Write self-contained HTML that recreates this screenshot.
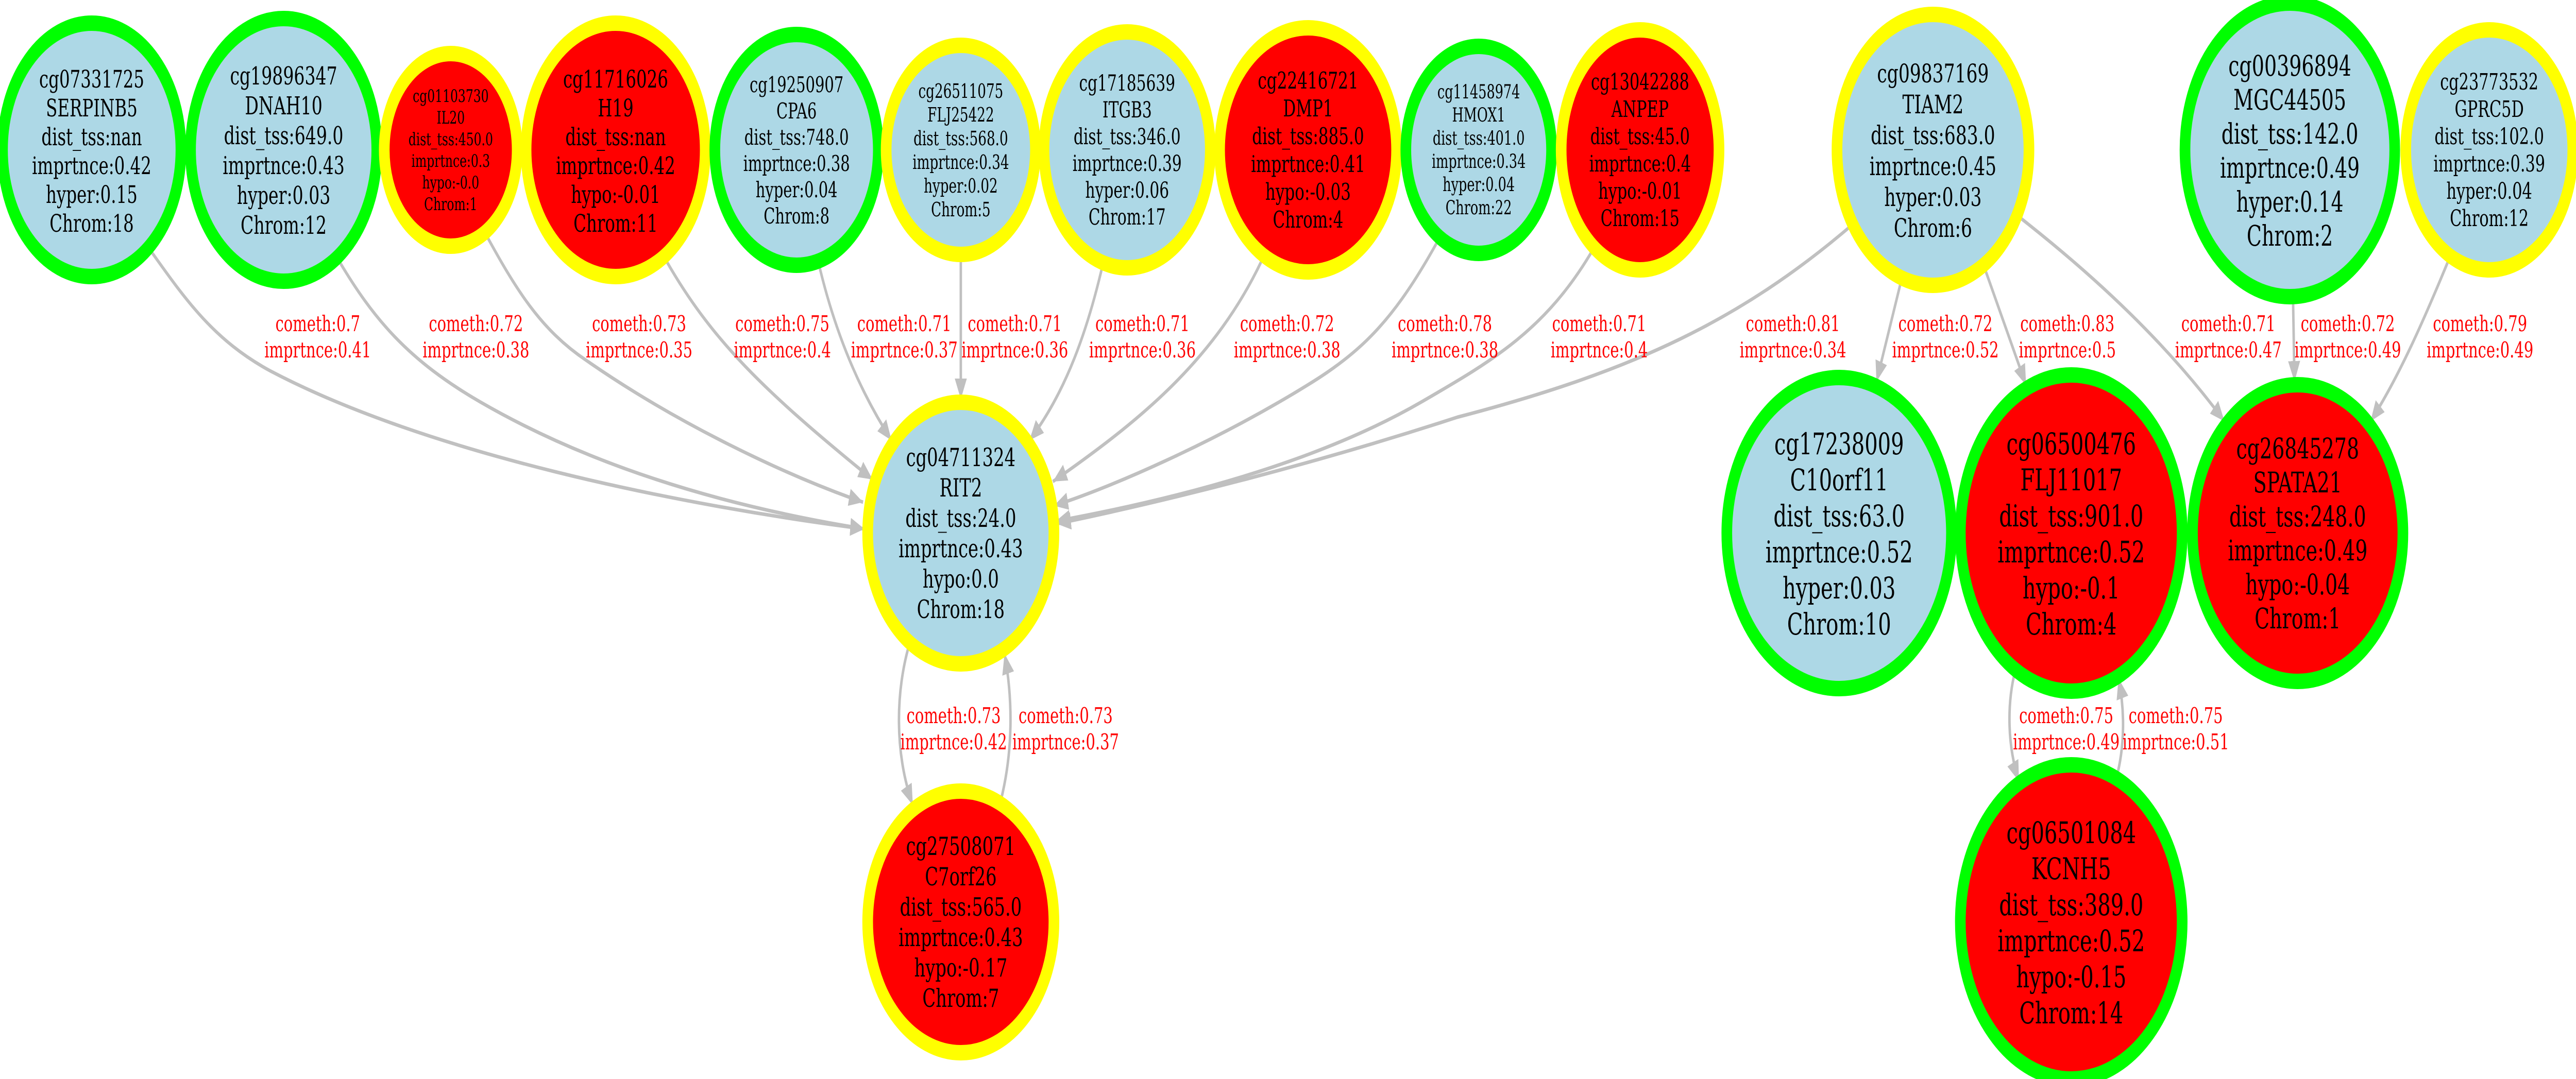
<!DOCTYPE html>
<html><head><meta charset="utf-8"><style>
html,body{margin:0;padding:0;background:#fff;overflow:hidden;width:100%;height:100%;}
svg{display:block;width:100vw;height:100vh;}
.e{fill:none;stroke:#c0c0c0;stroke-width:7;marker-end:url(#ah);}
.l{font-family:"DejaVu Serif","Liberation Serif",serif;font-size:42px;fill:#ff0000;text-anchor:middle;}
.n{font-family:"DejaVu Serif","Liberation Serif",serif;fill:#000;text-anchor:middle;}
</style></head><body>
<svg viewBox="0 0 7247 2095" preserveAspectRatio="none" xmlns="http://www.w3.org/2000/svg">
<defs>
<marker id="ah" markerUnits="userSpaceOnUse" markerWidth="44" markerHeight="36" refX="40" refY="17" orient="auto">
<path d="M0,0 L40,17 L0,34 Z" fill="#c0c0c0"/>
</marker>
</defs>

<path class="e" d="M421,484 C520,580 600,660 760,720 C1200,880 1900,980 2432,1027"/>
<path class="e" d="M949,501 C1050,620 1150,700 1350,780 C1700,920 2100,990 2432,1027"/>
<path class="e" d="M1366,454 C1450,560 1520,640 1650,700 C1900,820 2200,920 2428,975"/>
<path class="e" d="M1870,501 C2000,660 2150,760 2455,931"/>
<path class="e" d="M2302,508 C2350,650 2420,760 2508,855"/>
<path class="e" d="M2703,497 L2703,775"/>
<path class="e" d="M3103,512 C3060,640 3000,760 2896,855"/>
<path class="e" d="M3555,498 C3420,700 3200,820 2962,935"/>
<path class="e" d="M4048,464 C3900,650 3800,700 3600,780 C3400,860 3150,940 2965,982"/>
<path class="e" d="M4482,484 C4350,640 4200,700 4000,780 C3700,900 3300,970 2970,1012"/>
<path class="e" d="M5210,437 C4900,620 4600,720 4100,810 C3700,900 3300,970 2973,1017"/>
<path class="e" d="M2559,1249 C2520,1340 2515,1460 2568,1563"/>
<path class="e" d="M2815,1556 C2850,1460 2850,1360 2826,1269"/>
<path class="e" d="M5350,541 L5279,741"/>
<path class="e" d="M5582,518 L5700,748"/>
<path class="e" d="M5680,421 C5900,540 6100,670 6258,818"/>
<path class="e" d="M6451,581 L6455,741"/>
<path class="e" d="M6891,501 C6820,620 6750,730 6669,818"/>
<path class="e" d="M5669,1303 C5645,1370 5648,1450 5680,1517"/>
<path class="e" d="M5953,1513 C5978,1450 5978,1380 5960,1317"/>

<g class="l">
<text x="894" y="643">cometh:0.7</text><text x="894" y="694">imprtnce:0.41</text>
<text x="1339" y="643">cometh:0.72</text><text x="1339" y="694">imprtnce:0.38</text>
<text x="1798" y="643">cometh:0.73</text><text x="1798" y="694">imprtnce:0.35</text>
<text x="2201" y="643">cometh:0.75</text><text x="2201" y="694">imprtnce:0.4</text>
<text x="2544" y="643">cometh:0.71</text><text x="2544" y="694">imprtnce:0.37</text>
<text x="2855" y="643">cometh:0.71</text><text x="2855" y="694">imprtnce:0.36</text>
<text x="3214" y="643">cometh:0.71</text><text x="3214" y="694">imprtnce:0.36</text>
<text x="3621" y="643">cometh:0.72</text><text x="3621" y="694">imprtnce:0.38</text>
<text x="4065" y="643">cometh:0.78</text><text x="4065" y="694">imprtnce:0.38</text>
<text x="4499" y="643">cometh:0.71</text><text x="4499" y="694">imprtnce:0.4</text>
<text x="5044" y="643">cometh:0.81</text><text x="5044" y="694">imprtnce:0.34</text>
<text x="5473" y="643">cometh:0.72</text><text x="5473" y="694">imprtnce:0.52</text>
<text x="5816" y="643">cometh:0.83</text><text x="5816" y="694">imprtnce:0.5</text>
<text x="6269" y="643">cometh:0.71</text><text x="6269" y="694">imprtnce:0.47</text>
<text x="6605" y="643">cometh:0.72</text><text x="6605" y="694">imprtnce:0.49</text>
<text x="6977" y="643">cometh:0.79</text><text x="6977" y="694">imprtnce:0.49</text>
<text x="2683" y="1404">cometh:0.73</text><text x="2683" y="1455">imprtnce:0.42</text>
<text x="2998" y="1404">cometh:0.73</text><text x="2998" y="1455">imprtnce:0.37</text>
<text x="5813" y="1404">cometh:0.75</text><text x="5813" y="1455">imprtnce:0.49</text>
<text x="6121" y="1404">cometh:0.75</text><text x="6121" y="1455">imprtnce:0.51</text>
</g>

<g>
<ellipse cx="258" cy="291" rx="251" ry="246" fill="#add8e6" stroke="#00ff00" stroke-width="30"/>
<text class="n" font-size="47" x="258" y="170"><tspan x="258">cg07331725</tspan><tspan x="258" dy="56">SERPINB5</tspan><tspan x="258" dy="56">dist_tss:nan</tspan><tspan x="258" dy="56">imprtnce:0.42</tspan><tspan x="258" dy="56">hyper:0.15</tspan><tspan x="258" dy="56">Chrom:18</tspan></text>

<ellipse cx="798" cy="291" rx="262" ry="255" fill="#add8e6" stroke="#00ff00" stroke-width="30"/>
<text class="n" font-size="48" x="798" y="164"><tspan x="798">cg19896347</tspan><tspan x="798" dy="58">DNAH10</tspan><tspan x="798" dy="58">dist_tss:649.0</tspan><tspan x="798" dy="58">imprtnce:0.43</tspan><tspan x="798" dy="58">hyper:0.03</tspan><tspan x="798" dy="58">Chrom:12</tspan></text>

<ellipse cx="1268" cy="291" rx="187" ry="187" fill="#ff0000" stroke="#ffff00" stroke-width="30"/>
<text class="n" font-size="34" x="1268" y="198"><tspan x="1268">cg01103730</tspan><tspan x="1268" dy="42">IL20</tspan><tspan x="1268" dy="42">dist_tss:450.0</tspan><tspan x="1268" dy="42">imprtnce:0.3</tspan><tspan x="1268" dy="42">hypo:-0.0</tspan><tspan x="1268" dy="42">Chrom:1</tspan></text>

<ellipse cx="1732" cy="291" rx="252" ry="246" fill="#ff0000" stroke="#ffff00" stroke-width="30"/>
<text class="n" font-size="47" x="1732" y="170"><tspan x="1732">cg11716026</tspan><tspan x="1732" dy="56">H19</tspan><tspan x="1732" dy="56">dist_tss:nan</tspan><tspan x="1732" dy="56">imprtnce:0.42</tspan><tspan x="1732" dy="56">hypo:-0.01</tspan><tspan x="1732" dy="56">Chrom:11</tspan></text>

<ellipse cx="2241" cy="291" rx="230" ry="224" fill="#add8e6" stroke="#00ff00" stroke-width="30"/>
<text class="n" font-size="42" x="2241" y="179"><tspan x="2241">cg19250907</tspan><tspan x="2241" dy="51">CPA6</tspan><tspan x="2241" dy="51">dist_tss:748.0</tspan><tspan x="2241" dy="51">imprtnce:0.38</tspan><tspan x="2241" dy="51">hyper:0.04</tspan><tspan x="2241" dy="51">Chrom:8</tspan></text>

<ellipse cx="2703" cy="291" rx="210" ry="203" fill="#add8e6" stroke="#ffff00" stroke-width="30"/>
<text class="n" font-size="38" x="2703" y="190"><tspan x="2703">cg26511075</tspan><tspan x="2703" dy="46">FLJ25422</tspan><tspan x="2703" dy="46">dist_tss:568.0</tspan><tspan x="2703" dy="46">imprtnce:0.34</tspan><tspan x="2703" dy="46">hyper:0.02</tspan><tspan x="2703" dy="46">Chrom:5</tspan></text>

<ellipse cx="3171" cy="291" rx="234" ry="229" fill="#add8e6" stroke="#ffff00" stroke-width="30"/>
<text class="n" font-size="43" x="3171" y="176"><tspan x="3171">cg17185639</tspan><tspan x="3171" dy="52">ITGB3</tspan><tspan x="3171" dy="52">dist_tss:346.0</tspan><tspan x="3171" dy="52">imprtnce:0.39</tspan><tspan x="3171" dy="52">hyper:0.06</tspan><tspan x="3171" dy="52">Chrom:17</tspan></text>

<ellipse cx="3680" cy="291" rx="249" ry="237" fill="#ff0000" stroke="#ffff00" stroke-width="30"/>
<text class="n" font-size="45" x="3680" y="172"><tspan x="3680">cg22416721</tspan><tspan x="3680" dy="54">DMP1</tspan><tspan x="3680" dy="54">dist_tss:885.0</tspan><tspan x="3680" dy="54">imprtnce:0.41</tspan><tspan x="3680" dy="54">hypo:-0.03</tspan><tspan x="3680" dy="54">Chrom:4</tspan></text>

<ellipse cx="4160" cy="291" rx="205" ry="201" fill="#add8e6" stroke="#00ff00" stroke-width="30"/>
<text class="n" font-size="37" x="4160" y="191"><tspan x="4160">cg11458974</tspan><tspan x="4160" dy="45">HMOX1</tspan><tspan x="4160" dy="45">dist_tss:401.0</tspan><tspan x="4160" dy="45">imprtnce:0.34</tspan><tspan x="4160" dy="45">hyper:0.04</tspan><tspan x="4160" dy="45">Chrom:22</tspan></text>

<ellipse cx="4614" cy="291" rx="222" ry="233" fill="#ff0000" stroke="#ffff00" stroke-width="30"/>
<text class="n" font-size="44" x="4614" y="174"><tspan x="4614">cg13042288</tspan><tspan x="4614" dy="53">ANPEP</tspan><tspan x="4614" dy="53">dist_tss:45.0</tspan><tspan x="4614" dy="53">imprtnce:0.4</tspan><tspan x="4614" dy="53">hypo:-0.01</tspan><tspan x="4614" dy="53">Chrom:15</tspan></text>

<ellipse cx="5438" cy="291" rx="270" ry="263" fill="#add8e6" stroke="#ffff00" stroke-width="30"/>
<text class="n" font-size="50" x="5438" y="160"><tspan x="5438">cg09837169</tspan><tspan x="5438" dy="60">TIAM2</tspan><tspan x="5438" dy="60">dist_tss:683.0</tspan><tspan x="5438" dy="60">imprtnce:0.45</tspan><tspan x="5438" dy="60">hyper:0.03</tspan><tspan x="5438" dy="60">Chrom:6</tspan></text>

<ellipse cx="6442" cy="291" rx="295" ry="285" fill="#add8e6" stroke="#00ff00" stroke-width="30"/>
<text class="n" font-size="55" x="6442" y="147"><tspan x="6442">cg00396894</tspan><tspan x="6442" dy="66">MGC44505</tspan><tspan x="6442" dy="66">dist_tss:142.0</tspan><tspan x="6442" dy="66">imprtnce:0.49</tspan><tspan x="6442" dy="66">hyper:0.14</tspan><tspan x="6442" dy="66">Chrom:2</tspan></text>

<ellipse cx="7003" cy="291" rx="235" ry="233" fill="#add8e6" stroke="#ffff00" stroke-width="30"/>
<text class="n" font-size="44" x="7003" y="174"><tspan x="7003">cg23773532</tspan><tspan x="7003" dy="53">GPRC5D</tspan><tspan x="7003" dy="53">dist_tss:102.0</tspan><tspan x="7003" dy="53">imprtnce:0.39</tspan><tspan x="7003" dy="53">hyper:0.04</tspan><tspan x="7003" dy="53">Chrom:12</tspan></text>

<ellipse cx="2703" cy="1035" rx="262" ry="254" fill="#add8e6" stroke="#ffff00" stroke-width="30"/>
<text class="n" font-size="49" x="2703" y="905"><tspan x="2703">cg04711324</tspan><tspan x="2703" dy="59">RIT2</tspan><tspan x="2703" dy="59">dist_tss:24.0</tspan><tspan x="2703" dy="59">imprtnce:0.43</tspan><tspan x="2703" dy="59">hypo:0.0</tspan><tspan x="2703" dy="59">Chrom:18</tspan></text>

<ellipse cx="2703" cy="1790" rx="262" ry="254" fill="#ff0000" stroke="#ffff00" stroke-width="30"/>
<text class="n" font-size="49" x="2703" y="1660"><tspan x="2703">cg27508071</tspan><tspan x="2703" dy="59">C7orf26</tspan><tspan x="2703" dy="59">dist_tss:565.0</tspan><tspan x="2703" dy="59">imprtnce:0.43</tspan><tspan x="2703" dy="59">hypo:-0.17</tspan><tspan x="2703" dy="59">Chrom:7</tspan></text>

<ellipse cx="5174" cy="1035" rx="316" ry="302" fill="#add8e6" stroke="#00ff00" stroke-width="30"/>
<text class="n" font-size="58" x="5174" y="882"><tspan x="5174">cg17238009</tspan><tspan x="5174" dy="70">C10orf11</tspan><tspan x="5174" dy="70">dist_tss:63.0</tspan><tspan x="5174" dy="70">imprtnce:0.52</tspan><tspan x="5174" dy="70">hyper:0.03</tspan><tspan x="5174" dy="70">Chrom:10</tspan></text>

<ellipse cx="5827" cy="1035" rx="312" ry="307" fill="#ff0000" stroke="#00ff00" stroke-width="30"/>
<text class="n" font-size="58" x="5827" y="882"><tspan x="5827">cg06500476</tspan><tspan x="5827" dy="70">FLJ11017</tspan><tspan x="5827" dy="70">dist_tss:901.0</tspan><tspan x="5827" dy="70">imprtnce:0.52</tspan><tspan x="5827" dy="70">hypo:-0.1</tspan><tspan x="5827" dy="70">Chrom:4</tspan></text>

<ellipse cx="6464" cy="1035" rx="296" ry="288" fill="#ff0000" stroke="#00ff00" stroke-width="30"/>
<text class="n" font-size="55" x="6464" y="890"><tspan x="6464">cg26845278</tspan><tspan x="6464" dy="66">SPATA21</tspan><tspan x="6464" dy="66">dist_tss:248.0</tspan><tspan x="6464" dy="66">imprtnce:0.49</tspan><tspan x="6464" dy="66">hypo:-0.04</tspan><tspan x="6464" dy="66">Chrom:1</tspan></text>

<ellipse cx="5827" cy="1790" rx="312" ry="305" fill="#ff0000" stroke="#00ff00" stroke-width="30"/>
<text class="n" font-size="58" x="5827" y="1637"><tspan x="5827">cg06501084</tspan><tspan x="5827" dy="70">KCNH5</tspan><tspan x="5827" dy="70">dist_tss:389.0</tspan><tspan x="5827" dy="70">imprtnce:0.52</tspan><tspan x="5827" dy="70">hypo:-0.15</tspan><tspan x="5827" dy="70">Chrom:14</tspan></text>
</g>
</svg>
</body></html>
